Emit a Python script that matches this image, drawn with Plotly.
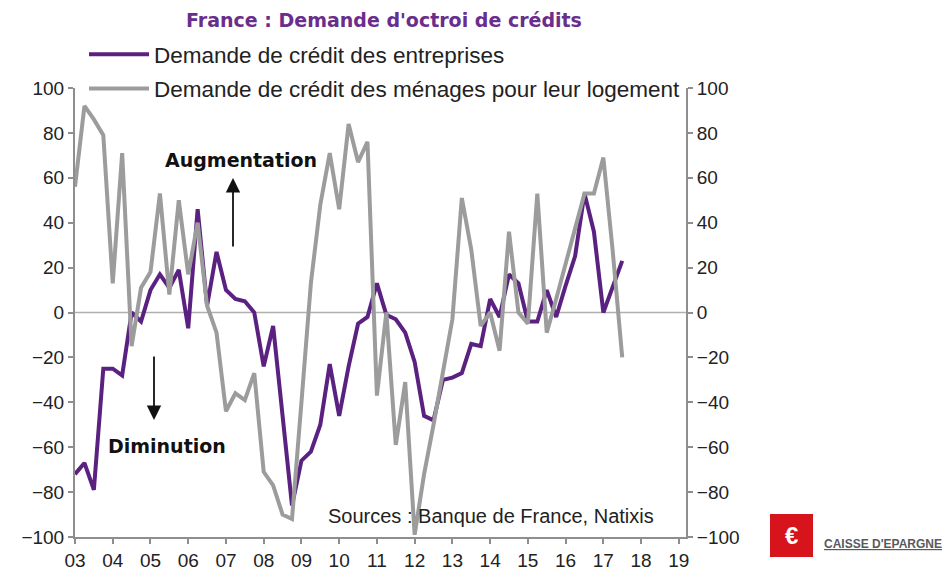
import plotly.graph_objects as go

# ---- data (quarterly, 2003Q1 .. 2017Q3) ----
start_year = 2003
entreprises = [-72, -67, -79, -25, -25, -28, 0, -4, 10, 17, 11, 19, -7, 46, 3, 27,
               10, 6, 5, 0, -24, -6, -46, -86, -66, -62, -50, -23, -46, -24, -5, -2,
               13, -1, -3, -9, -22, -46, -48, -30, -29, -27, -14, -15, 6, -2, 17, 13,
               -4, -4, 10, -2, 12, 25, 53, 36, 0, 11, 23]
menages = [56, 92, 86, 79, 13, 71, -15, 11, 18, 53, 8, 50, 17, 40, 3, -9,
           -44, -36, -39, -27, -71, -77, -90, -92, -40, 13, 48, 71, 46, 84, 67, 76,
           -37, 0, -59, -31, -99, -72, -50, -27, -3, 51, 28, -6, 0, -17, 36, 0,
           -5, 53, -9, 6, 22, 38, 53, 53, 69, 27, -20]
year_ticks = list(range(2003, 2020))
year_labels = ["03", "04", "05", "06", "07", "08", "09", "10", "11", "12",
               "13", "14", "15", "16", "17", "18", "19"]
y_ticks = [-100, -80, -60, -40, -20, 0, 20, 40, 60, 80, 100]

x = [start_year + i / 4 for i in range(len(entreprises))]

PURPLE = "#5B2180"
GRAY = "#9C9C9C"
AXIS = "#8E8E8E"
FONT = "Liberation Sans, Arial, sans-serif"
BOLD = "DejaVu Sans, sans-serif"

fig = go.Figure()
fig.add_trace(go.Scatter(x=x, y=entreprises, mode="lines",
                         name="Demande de crédit des entreprises",
                         line=dict(color=PURPLE, width=4), legendgroup="a"))
fig.add_trace(go.Scatter(x=x, y=menages, mode="lines", yaxis="y2",
                         name="Demande de crédit des ménages pour leur logement",
                         line=dict(color=GRAY, width=4), legendgroup="b"))

W, H = 946, 571
L, R, T, B = 75, 686, 88, 537
def px(xp):
    return (xp - L) / (R - L)
def py(yp):
    return (B - yp) / (B - T)

yax = dict(range=[-100, 100], tickvals=y_ticks, showgrid=False, zeroline=False,
           showline=True, linecolor=AXIS, linewidth=2, ticks="outside",
           ticklen=5, tickcolor=AXIS, tickwidth=1.5,
           tickfont=dict(size=19, color="#222", family=FONT))

fig.update_layout(
    width=W, height=H,
    margin=dict(l=L, r=W - R, t=T, b=H - B, autoexpand=False),
    paper_bgcolor="white", plot_bgcolor="white",
    font=dict(family=FONT, color="#222"),
    title=dict(text="<b>France : Demande d'octroi de crédits</b>",
               x=384 / W, xanchor="center", y=1 - 20 / H, yanchor="middle",
               font=dict(size=19, color="#6A2D8C", family=BOLD)),
    xaxis=dict(range=[2003, 2019.19], tickvals=year_ticks, ticktext=year_labels,
               showgrid=False, zeroline=False, showline=True, linecolor=AXIS,
               linewidth=2, ticks="outside", ticklen=5, tickcolor=AXIS,
               tickwidth=1.5, tickfont=dict(size=19, color="#222", family=FONT)),
    yaxis=yax,
    yaxis2=dict(yax, overlaying="y", side="right"),
    showlegend=True,
    legend=dict(xref="container", yref="container", x=84 / W, y=1 - 33 / H,
                xanchor="left", yanchor="top", bgcolor="rgba(0,0,0,0)",
                font=dict(size=22.5, color="#222", family=FONT),
                traceorder="grouped", tracegroupgap=2, itemwidth=60),
)

# zero line
fig.add_shape(type="line", xref="paper", yref="y", x0=0, x1=1, y0=0, y1=0,
              line=dict(color="#B0B0B0", width=1.5), layer="below")

# text annotations
fig.add_annotation(xref="paper", yref="paper", x=px(241), y=py(160),
                   xanchor="center", yanchor="middle",
                   text="<b>Augmentation</b>", showarrow=False,
                   font=dict(size=19, color="#111", family=BOLD))
fig.add_annotation(xref="paper", yref="paper", x=px(167), y=py(446),
                   xanchor="center", yanchor="middle",
                   text="<b>Diminution</b>", showarrow=False,
                   font=dict(size=19, color="#111", family=BOLD))
fig.add_annotation(xref="paper", yref="paper", x=px(233), y=py(178),
                   ax=0, ay=70, text="", showarrow=True, arrowhead=2,
                   arrowsize=1.6, arrowwidth=1.8, arrowcolor="#111")
fig.add_annotation(xref="paper", yref="paper", x=px(154), y=py(420),
                   ax=0, ay=-65, text="", showarrow=True, arrowhead=2,
                   arrowsize=1.6, arrowwidth=1.8, arrowcolor="#111")
fig.add_annotation(xref="paper", yref="paper", x=px(491), y=py(516),
                   xanchor="center", yanchor="middle",
                   text="Sources : Banque de France, Natixis", showarrow=False,
                   font=dict(size=20, color="#222", family=FONT))

# logo block
fig.add_shape(type="rect", xref="paper", yref="paper",
              x0=px(770), x1=px(813), y0=py(557), y1=py(514),
              fillcolor="#D7141C", line=dict(width=0))
fig.add_annotation(xref="paper", yref="paper", x=px(791.5), y=py(535.5),
                   xanchor="center", yanchor="middle",
                   text="<b>€</b>", showarrow=False,
                   font=dict(size=24, color="white", family=FONT))
fig.add_annotation(xref="paper", yref="paper", x=px(822), y=py(544),
                   xanchor="left", yanchor="middle",
                   text="<b><u>CAISSE D'EPARGNE</u></b>",
                   showarrow=False,
                   font=dict(size=12, color="#5A5A5A", family=FONT))

fig.write_html("out.html", config={"displayModeBar": False},
               post_script="document.body.style.margin='0px';")
